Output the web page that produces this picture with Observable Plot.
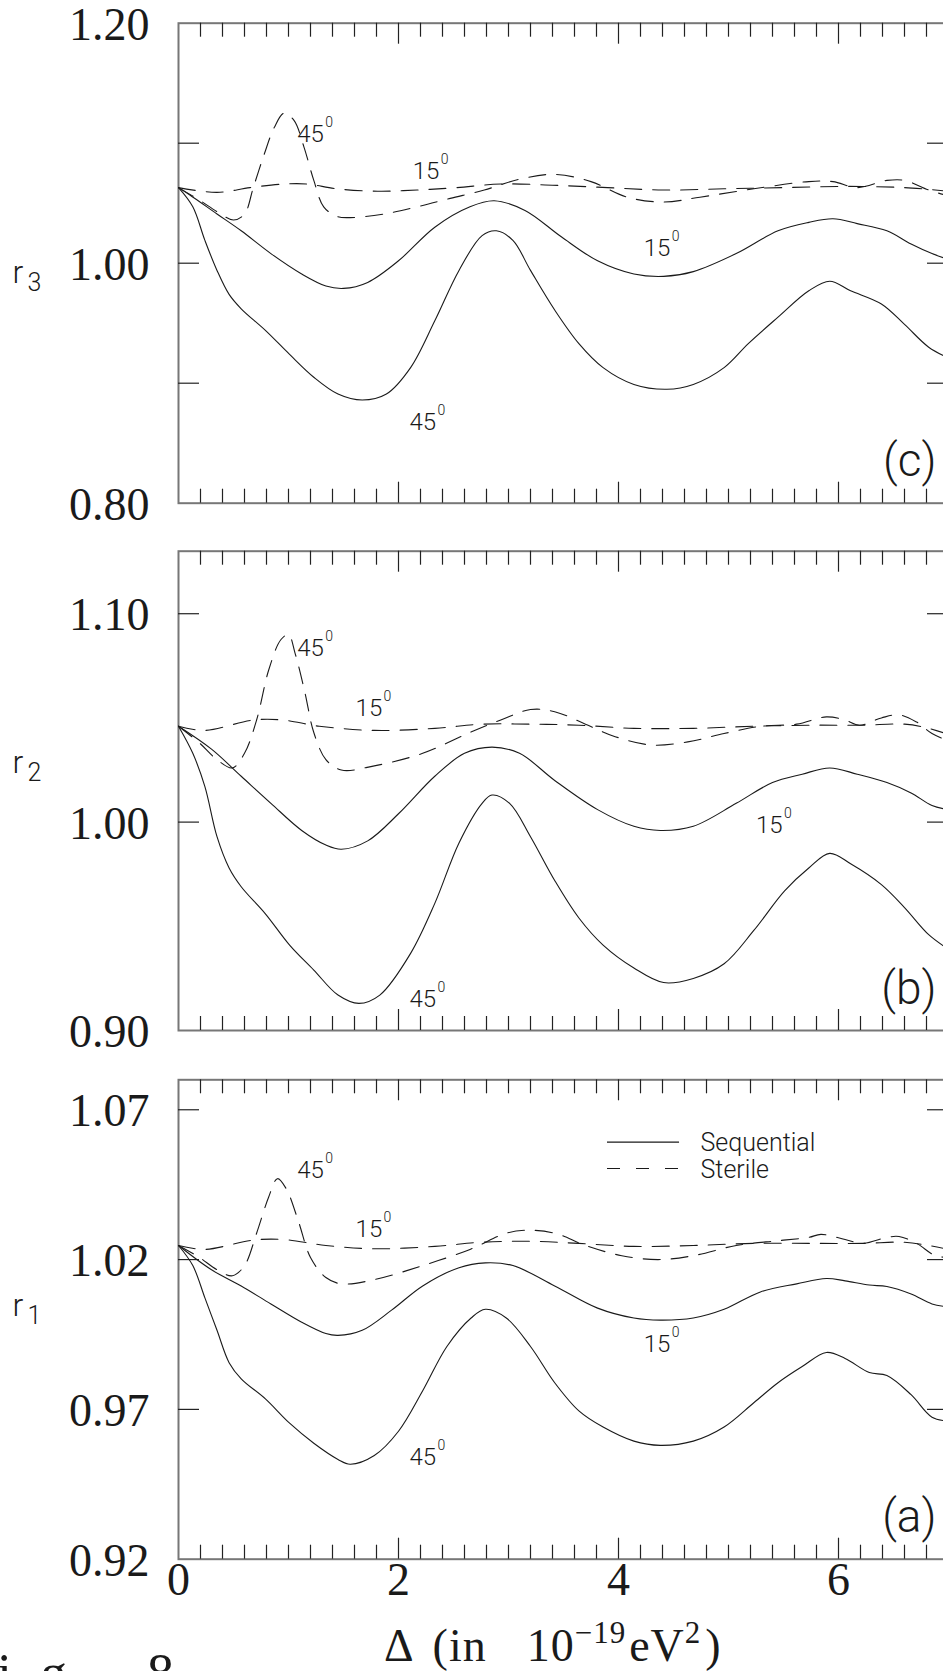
<!DOCTYPE html>
<html>
<head>
<meta charset="utf-8">
<script src="https://cdn.jsdelivr.net/npm/d3@7"></script>
<script src="https://cdn.jsdelivr.net/npm/@observablehq/plot@0.6"></script>
<style>
  html, body { margin: 0; padding: 0; background: #fff; overflow: hidden; }
  #wrap { position: relative; width: 943px; height: 1671px; overflow: hidden; background: #fff; }
  #wrap svg { position: absolute; left: 0; display: block; max-width: none !important; background: transparent !important; }
</style>
</head>
<body>
<div id="wrap"></div>
<script>
// ---------- shared x axis ----------
const xDomain = [0, 7];
const xMajorTicks = [2, 4, 6];
const xMinorTicks = d3.range(1, 35).filter(i => i % 10 !== 0).map(i => i / 5);
const xTickLabels = [0, 2, 4, 6];

// ---------- panel (c): r3 ----------
const cDomain = [0.80, 1.20];
const cYTicks = [0.90, 1.00, 1.10];
const cYLabels = [0.80, 1.00, 1.20];
const cSequential15 = [[0,1.063],[0.1,1.057],[0.35,1.041],[0.57,1.027],[0.84,1.008],[1.12,0.991],[1.34,0.981],[1.5,0.979],[1.72,0.984],[2.0,1.002],[2.33,1.030],[2.65,1.047],[2.87,1.052],[3.15,1.044],[3.48,1.022],[3.81,1.002],[4.14,0.991],[4.41,0.989],[4.68,0.993],[5.07,1.008],[5.45,1.027],[5.73,1.034],[5.95,1.037],[6.17,1.033],[6.44,1.027],[6.66,1.016],[6.85,1.008],[7.0,1.003]];
const cSequential45 = [[0,1.063],[0.13,1.047],[0.24,1.019],[0.35,0.994],[0.46,0.974],[0.57,0.962],[0.79,0.944],[1.01,0.924],[1.23,0.905],[1.45,0.891],[1.67,0.886],[1.89,0.891],[2.11,0.913],[2.33,0.952],[2.55,0.994],[2.76,1.023],[2.89,1.027],[3.04,1.019],[3.2,0.994],[3.42,0.961],[3.64,0.933],[3.86,0.913],[4.14,0.899],[4.44,0.895],[4.68,0.899],[4.96,0.913],[5.18,0.933],[5.45,0.955],[5.73,0.977],[5.92,0.985],[6.11,0.977],[6.39,0.966],[6.6,0.949],[6.82,0.930],[7.0,0.921]];
const cSterile15 = [[0,1.063],[0.35,1.059],[0.65,1.063],[0.96,1.066],[1.17,1.066],[1.44,1.062],[1.81,1.060],[2.17,1.061],[2.53,1.063],[2.93,1.066],[3.4,1.065],[3.9,1.063],[4.41,1.061],[4.96,1.062],[5.5,1.063],[6.06,1.064],[6.6,1.063],[7.0,1.060]];
const cSterile45 = [[0,1.063],[0.2,1.052],[0.35,1.043],[0.5,1.036],[0.6,1.041],[0.68,1.063],[0.78,1.091],[0.87,1.113],[0.96,1.125],[1.05,1.119],[1.14,1.097],[1.23,1.069],[1.32,1.047],[1.44,1.039],[1.56,1.038],[1.87,1.041],[2.17,1.047],[2.47,1.054],[2.78,1.061],[3.1,1.070],[3.42,1.074],[3.75,1.068],[4.08,1.055],[4.41,1.051],[4.74,1.055],[5.23,1.062],[5.73,1.068],[5.95,1.068],[6.17,1.063],[6.44,1.069],[6.6,1.069],[6.82,1.061],[7.0,1.056]];
const cAngleLabels = [
  {x: 1.08, y: 1.1006, t: "45"},
  {x: 2.13, y: 1.0698, t: "15"},
  {x: 4.23, y: 1.0064, t: "15"},
  {x: 2.10, y: 0.8606, t: "45"}
];

// ---------- panel (b): r2 ----------
const bDomain = [0.90, 1.13];
const bYTicks = [1.00, 1.10];
const bYLabels = [0.90, 1.00, 1.10];
const bSequential15 = [[0,1.046],[0.3,1.035],[0.57,1.022],[0.84,1.009],[1.12,0.996],[1.34,0.989],[1.48,0.987],[1.72,0.991],[2.0,1.004],[2.33,1.022],[2.6,1.033],[2.85,1.036],[3.1,1.033],[3.42,1.020],[3.81,1.006],[4.14,0.998],[4.38,0.996],[4.68,0.998],[5.07,1.009],[5.4,1.019],[5.67,1.023],[5.92,1.026],[6.17,1.023],[6.44,1.019],[6.66,1.014],[6.85,1.008],[7.0,1.006]];
const bSequential45 = [[0,1.046],[0.13,1.033],[0.24,1.017],[0.35,0.993],[0.46,0.978],[0.57,0.969],[0.79,0.956],[1.01,0.941],[1.23,0.929],[1.45,0.917],[1.64,0.913],[1.83,0.917],[2.11,0.937],[2.33,0.961],[2.55,0.990],[2.76,1.009],[2.85,1.013],[3.01,1.009],[3.2,0.993],[3.42,0.972],[3.64,0.954],[3.86,0.941],[4.14,0.930],[4.41,0.923],[4.68,0.925],[4.96,0.932],[5.23,0.948],[5.51,0.967],[5.73,0.978],[5.92,0.985],[6.11,0.980],[6.39,0.970],[6.6,0.959],[6.82,0.946],[7.0,0.939]];
const bSterile15 = [[0,1.046],[0.24,1.044],[0.68,1.049],[0.95,1.049],[1.28,1.046],[1.78,1.044],[2.33,1.045],[2.76,1.047],[3.2,1.047],[3.64,1.0465],[4.14,1.045],[4.68,1.045],[5.23,1.046],[5.78,1.0465],[6.22,1.0465],[6.6,1.047],[6.82,1.045],[7.0,1.042]];
const bSterile45 = [[0,1.046],[0.19,1.038],[0.35,1.030],[0.49,1.026],[0.6,1.033],[0.71,1.049],[0.82,1.073],[0.93,1.0875],[1.0,1.090],[1.06,1.081],[1.15,1.062],[1.23,1.043],[1.34,1.030],[1.48,1.025],[1.78,1.027],[2.22,1.033],[2.65,1.043],[2.93,1.049],[3.2,1.054],[3.42,1.053],[3.7,1.047],[3.97,1.041],[4.3,1.037],[4.63,1.0385],[4.96,1.0425],[5.29,1.046],[5.62,1.047],[5.89,1.0505],[6.06,1.049],[6.19,1.0465],[6.39,1.050],[6.55,1.0515],[6.71,1.048],[6.85,1.0425],[7.0,1.039]];
const bAngleLabels = [
  {x: 1.08, y: 1.0795, t: "45"},
  {x: 1.61, y: 1.0507, t: "15"},
  {x: 5.25, y: 0.9950, t: "15"},
  {x: 2.10, y: 0.9115, t: "45"}
];

// ---------- panel (a): r1 ----------
const aDomain = [0.92, 1.08];
const aYTicks = [0.97, 1.02, 1.07];
const aYLabels = [0.92, 0.97, 1.02, 1.07];
const aSequential15 = [[0,1.0247],[0.3,1.0166],[0.57,1.0112],[0.84,1.0052],[1.12,0.9991],[1.34,0.9953],[1.45,0.9947],[1.67,0.9964],[1.94,1.0032],[2.22,1.0112],[2.55,1.0173],[2.79,1.0189],[3.04,1.018],[3.42,1.0112],[3.81,1.0038],[4.14,1.0005],[4.38,0.9998],[4.68,1.0005],[4.96,1.0034],[5.29,1.0092],[5.62,1.0119],[5.89,1.0137],[6.06,1.0129],[6.28,1.0115],[6.44,1.011],[6.66,1.0085],[6.85,1.0052],[7.0,1.0042]];
const aSequential45 = [[0,1.0247],[0.13,1.018],[0.24,1.0072],[0.35,0.9964],[0.46,0.9856],[0.57,0.9802],[0.79,0.9735],[1.01,0.9654],[1.23,0.9587],[1.45,0.9533],[1.56,0.9517],[1.78,0.9546],[2.0,0.9627],[2.22,0.9762],[2.44,0.991],[2.66,1.0005],[2.79,1.0034],[2.98,1.0005],[3.2,0.991],[3.42,0.9789],[3.64,0.9695],[3.86,0.9641],[4.14,0.9594],[4.38,0.958],[4.68,0.9594],[4.96,0.9641],[5.23,0.9722],[5.45,0.9789],[5.67,0.9843],[5.89,0.989],[6.06,0.987],[6.28,0.9823],[6.44,0.9813],[6.66,0.9749],[6.85,0.9674],[7.0,0.9661]];
const aSterile15 = [[0,1.0247],[0.24,1.0234],[0.68,1.0265],[0.95,1.0267],[1.34,1.0247],[1.78,1.0236],[2.33,1.0244],[2.76,1.0258],[3.2,1.0261],[3.64,1.0254],[4.14,1.0244],[4.68,1.0247],[5.23,1.0254],[5.78,1.0254],[6.22,1.0254],[6.6,1.0258],[6.82,1.0247],[7.0,1.0234]];
const aSterile45 = [[0,1.0247],[0.19,1.0207],[0.35,1.0166],[0.49,1.0146],[0.6,1.018],[0.71,1.0288],[0.82,1.0409],[0.9,1.047],[0.98,1.0436],[1.09,1.0328],[1.2,1.0207],[1.34,1.014],[1.48,1.0119],[1.78,1.0133],[2.22,1.018],[2.65,1.0234],[2.98,1.0288],[3.15,1.0298],[3.42,1.0288],[3.7,1.0247],[4.03,1.0213],[4.36,1.02],[4.68,1.0213],[5.07,1.0247],[5.45,1.0263],[5.73,1.0274],[5.84,1.0284],[6.06,1.0267],[6.22,1.0254],[6.44,1.0274],[6.55,1.0277],[6.71,1.0254],[6.88,1.0213],[7.0,1.0207]];
const aAngleLabels = [
  {x: 1.08, y: 1.0471, t: "45"},
  {x: 1.61, y: 1.0275, t: "15"},
  {x: 4.23, y: 0.9892, t: "15"},
  {x: 2.10, y: 0.9513, t: "45"}
];
const legendNames = ["Sequential", "Sterile"];
const legendSolid = [{x1: 3.90, x2: 4.555, y: 1.0592, ty: 1.0564, name: legendNames[0]}];
const legendDashed = [{x1: 3.90, x2: 4.555, y: 1.0504, ty: 1.0471, name: legendNames[1]}];

// ---------- styling ----------
const SERIF = "'Liberation Serif', 'DejaVu Serif', serif";
const SANS = "Roboto, 'Noto Sans', 'DejaVu Sans', sans-serif";
const INK = "#1a1a1a";
const DASH = "17,11";
const SVG_W = 960, ML = 178, MR = 12;

function curve(data, dashed) {
  return Plot.line(data, {
    x: d => d[0], y: d => d[1], curve: "catmull-rom",
    stroke: INK, strokeWidth: 1.1, strokeDasharray: dashed ? DASH : null
  });
}

function panel(p) {
  const frameW = SVG_W - ML - MR;
  const frameH = p.height - p.mt - p.mb;
  const tick = {stroke: "#222", strokeWidth: 1.2};
  const marks = [
    Plot.frame({stroke: "#777", strokeWidth: 2}),
    Plot.ruleX(xMinorTicks, {...tick, insetBottom: frameH - 14}),
    Plot.ruleX(xMinorTicks, {...tick, insetTop: frameH - 14}),
    Plot.ruleX(xMajorTicks, {...tick, insetBottom: frameH - 21}),
    Plot.ruleX(xMajorTicks, {...tick, insetTop: frameH - 21}),
    Plot.ruleY(p.yTicks, {...tick, insetRight: frameW - 21}),
    Plot.ruleY(p.yTicks, {...tick, insetLeft: frameW - 21}),
    Plot.text(p.yLabels, {
      y: d => d, frameAnchor: "left", text: d => d.toFixed(2),
      textAnchor: "end", lineAnchor: "middle", dx: -29, dy: 2,
      fontSize: 46, fontFamily: SERIF, fill: INK
    }),
    // y-axis name r_n
    Plot.text(["r"], {frameAnchor: "left", textAnchor: "start", lineAnchor: "bottom",
      dx: -166, dy: p.rDy, fontSize: 32, fontFamily: SANS, fontWeight: 300, fill: INK}),
    Plot.text([p.sub], {frameAnchor: "left", textAnchor: "start", lineAnchor: "bottom",
      dx: -151, dy: p.rDy + 8, fontSize: 25, fontFamily: SANS, fontWeight: 300, fill: INK}),
    // curves
    curve(p.seq15, false),
    curve(p.seq45, false),
    curve(p.ste15, true),
    curve(p.ste45, true),
    // angle labels
    Plot.text(p.angles, {x: "x", y: "y", text: "t", textAnchor: "start", lineAnchor: "bottom",
      fontSize: 24, fontFamily: SANS, fontWeight: 300, fill: INK}),
    Plot.text(p.angles, {x: "x", y: "y", text: () => "0", textAnchor: "start", lineAnchor: "bottom",
      dx: 28, dy: -15, fontSize: 14, fontFamily: SANS, fontWeight: 300, fill: INK}),
    // panel letter
    Plot.text([p.letter], {frameAnchor: "bottom-right", textAnchor: "end", lineAnchor: "bottom",
      dx: -12, dy: -27, fontSize: 46, fontFamily: SANS, fontWeight: 300, fill: INK,
      letterSpacing: 4})
  ];
  if (p.legend) {
    marks.push(
      Plot.ruleY(legendSolid, {y: "y", x1: "x1", x2: "x2", stroke: INK, strokeWidth: 1.1}),
      Plot.ruleY(legendDashed, {y: "y", x1: "x1", x2: "x2", stroke: INK, strokeWidth: 1.1,
        strokeDasharray: "13,16"}),
      Plot.text([...legendSolid, ...legendDashed], {x: d => d.x2, y: "ty", text: "name",
        textAnchor: "start", lineAnchor: "bottom",
        dx: 21, fontSize: 25, fontFamily: SANS, fontWeight: 300, fill: INK})
    );
  }
  if (p.xLabels) {
    marks.push(Plot.text(xTickLabels, {x: d => d, frameAnchor: "bottom", text: d => String(d),
      lineAnchor: "middle", dy: 21, fontSize: 46, fontFamily: SERIF, fill: INK}));
  }
  const svg = Plot.plot({
    width: SVG_W, height: p.height,
    marginLeft: ML, marginRight: MR, marginTop: p.mt, marginBottom: p.mb,
    x: {domain: xDomain, axis: null},
    y: {domain: p.domain, axis: null},
    style: {background: "transparent", maxWidth: "none"},
    marks
  });
  svg.style.top = p.top + "px";
  return svg;
}

const wrap = document.getElementById("wrap");

const svgC = panel({top: 0, height: 545, mt: 22.7, mb: 42.3, domain: cDomain, yTicks: cYTicks, yLabels: cYLabels,
  sub: "3", rDy: 20, seq15: cSequential15, seq45: cSequential45, ste15: cSterile15, ste45: cSterile45,
  angles: cAngleLabels, letter: "(c)"});
const svgB = panel({top: 515, height: 555, mt: 35.7, mb: 40, domain: bDomain, yTicks: bYTicks, yLabels: bYLabels,
  sub: "2", rDy: -18, seq15: bSequential15, seq45: bSequential45, ste15: bSterile15, ste45: bSterile45,
  angles: bAngleLabels, letter: "(b)"});
const svgA = panel({top: 1040, height: 631, mt: 39.3, mb: 112.3, domain: aDomain, yTicks: aYTicks, yLabels: aYLabels,
  sub: "1", rDy: -4, seq15: aSequential15, seq45: aSequential45, ste15: aSterile15, ste45: aSterile45,
  angles: aAngleLabels, letter: "(a)", xLabels: true, legend: true});

wrap.appendChild(svgC);
wrap.appendChild(svgB);
wrap.appendChild(svgA);

// x-axis title with superscripts (SVG a starts at page y = 1040)
const title = d3.select(svgA).append("text")
  .attr("x", 384).attr("y", 621).attr("text-anchor", "start")
  .attr("letter-spacing", 1)
  .attr("font-family", SERIF).attr("font-size", 46).attr("fill", INK);
title.append("tspan").text("Δ");
title.append("tspan").attr("dx", 18).text("(in");
title.append("tspan").attr("dx", 40).text("10");
title.append("tspan").attr("dy", -18).attr("font-size", 31).text("−19");
title.append("tspan").attr("dy", 18).attr("dx", 3).text("eV");
title.append("tspan").attr("dy", -18).attr("font-size", 31).text("2");
title.append("tspan").attr("dy", 18).attr("dx", 4).text(")");

// figure caption, clipped at the bottom-left like in the reference
const fig = d3.select(svgA).append("text")
  .attr("y", 651).attr("text-anchor", "start")
  .attr("font-family", SERIF).attr("font-size", 54).attr("fill", INK);
fig.append("tspan").attr("x", -33).text("Fi");
fig.append("tspan").attr("x", 40).text("g.");
fig.append("tspan").attr("x", 147).text("8");
</script>
</body>
</html>
